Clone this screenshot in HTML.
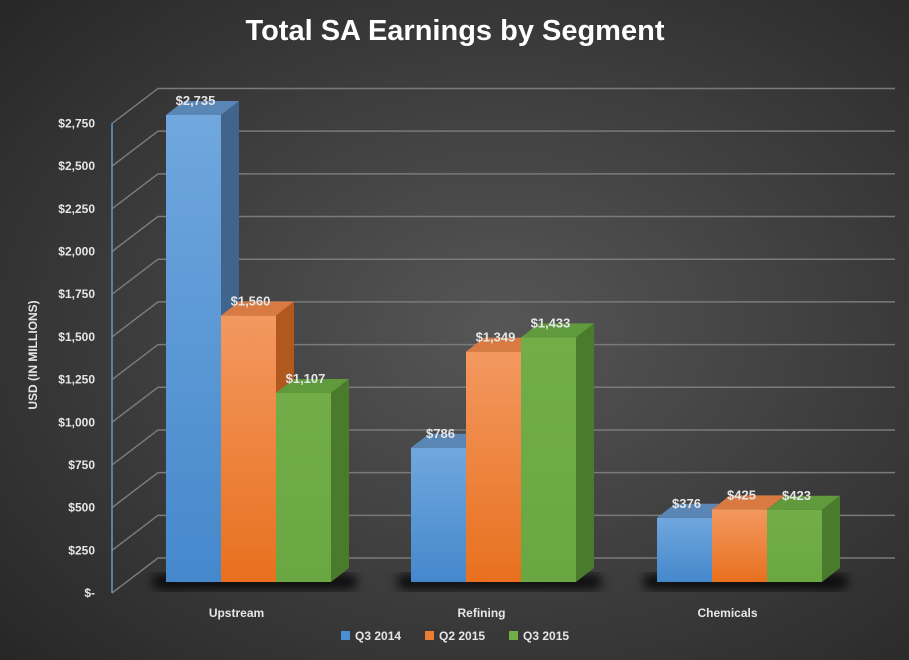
<!DOCTYPE html>
<html><head><meta charset="utf-8"><style>
html,body{margin:0;padding:0;background:#2b2b2b}
svg{display:block;font-family:"Liberation Sans",sans-serif}
</style></head><body>
<svg id="c" width="909" height="660" viewBox="0 0 909 660">
<defs>
<radialGradient id="bg" cx="0.55" cy="0.5" r="0.75">
<stop offset="0" stop-color="#565656"/><stop offset="1" stop-color="#262626"/></radialGradient>
<linearGradient id="fb" x1="0" y1="0" x2="0" y2="1"><stop offset="0" stop-color="#70a7de"/><stop offset="1" stop-color="#4588cc"/></linearGradient>
<linearGradient id="fo" x1="0" y1="0" x2="0" y2="1"><stop offset="0" stop-color="#f39860"/><stop offset="1" stop-color="#e8701e"/></linearGradient>
<linearGradient id="fg" x1="0" y1="0" x2="0" y2="1"><stop offset="0" stop-color="#72ad48"/><stop offset="1" stop-color="#6aa742"/></linearGradient>
<filter id="blur"><feGaussianBlur stdDeviation="5"/></filter>
</defs>
<rect width="909" height="660" fill="url(#bg)"/>
<text x="455" y="40" text-anchor="middle" font-size="29" font-weight="bold" fill="#fff">Total SA Earnings by Segment</text>
<text transform="translate(37,355) rotate(-90)" text-anchor="middle" font-size="12" font-weight="bold" fill="#e6e6e6">USD (IN MILLIONS)</text>
<g id="grid"></g><g id="bars"></g><g id="labels"></g>
<g>
<rect x="341" y="631" width="9" height="9" fill="#4a8fd4"/>
<text x="355" y="640" font-size="12" font-weight="bold" fill="#e6e6e6">Q3 2014</text>
<rect x="425" y="631" width="9" height="9" fill="#ed7d31"/>
<text x="439" y="640" font-size="12" font-weight="bold" fill="#e6e6e6">Q2 2015</text>
<rect x="509" y="631" width="9" height="9" fill="#70ad47"/>
<text x="523" y="640" font-size="12" font-weight="bold" fill="#e6e6e6">Q3 2015</text>
</g>
</svg>
<script>
const categories = ["Upstream","Refining","Chemicals"];
const seriesNames = ["Q3 2014","Q2 2015","Q3 2015"];
const q3_2014 = [2735, 786, 376];
const q2_2015 = [1560, 1349, 425];
const q3_2015 = [1107, 1433, 423];
const ticks = [0,250,500,750,1000,1250,1500,1750,2000,2250,2500,2750];
const tickLabels = ["$-","$250","$500","$750","$1,000","$1,250","$1,500","$1,750","$2,000","$2,250","$2,500","$2,750"];

const NS="http://www.w3.org/2000/svg";
const K=0.17075;
function yWall(v){return 593 - v*K;}
function yBar(v){return 582 - v*K;}
function mk(tag,attrs,parent){const e=document.createElementNS(NS,tag);for(const k in attrs)e.setAttribute(k,attrs[k]);parent.appendChild(e);return e;}
const grid=document.getElementById('grid'),bars=document.getElementById('bars'),labels=document.getElementById('labels');
const DX=46,DY=-35;
ticks.forEach((t,i)=>{
  const y=yWall(t);
  const p=mk('polyline',{points:`112,${y} ${112+DX},${y+DY} 895,${y+DY}`,fill:'none',stroke:'#7a7a7a','stroke-width':1.5},grid);
  
  
  const tx=mk('text',{x:95,y:y+4,'text-anchor':'end','font-size':12,'font-weight':'bold',fill:'#e6e6e6'},labels);
  tx.textContent=tickLabels[i];
  
  
});
const wl=mk('line',{x1:112,y1:yWall(ticks[ticks.length-1]),x2:112,y2:yWall(0),stroke:'#5b9bd5','stroke-width':1.5},grid);



const series=[q3_2014,q2_2015,q3_2015];
const fronts=['url(#fb)','url(#fo)','url(#fg)'];
const sides=['#41648c','#b0581e','#4a7a2c'];
const tops=['#5a86b6','#d87a42','#5f9a3c'];
const BW=55,SDX=18,SDY=-14,GX=[166,411,657];
categories.forEach((c,ci)=>{
  const x0=GX[ci];
  const sh=mk('rect',{x:x0-14,y:574,width:3*BW+SDX+22,height:16,rx:8,fill:'#000',opacity:0.75,filter:'url(#blur)'},bars);
  
  
  const cl=mk('text',{x:x0+BW*1.5-12,y:617,'text-anchor':'middle','font-size':12,'font-weight':'bold',fill:'#e6e6e6'},labels);
  cl.textContent=c;
  
  
});
categories.forEach((c,ci)=>{
  series.forEach((s,si)=>{
    const v=s[ci],x=GX[ci]+si*BW,yt=yBar(v),yb=582;
    const g=mk('g',{},bars);
    
    
    mk('polygon',{points:`${x+BW},${yt} ${x+BW+SDX},${yt+SDY} ${x+BW+SDX},${yb+SDY} ${x+BW},${yb}`,fill:sides[si]},g);
    mk('polygon',{points:`${x},${yt} ${x+SDX},${yt+SDY} ${x+BW+SDX},${yt+SDY} ${x+BW},${yt}`,fill:tops[si]},g);
    mk('rect',{x:x,y:yt,width:BW,height:yb-yt,fill:fronts[si]},g);
    const t=mk('text',{x:x+BW/2+2,y:yt-10,'text-anchor':'middle','font-size':13,'font-weight':'bold',fill:'#e6e6e6'},labels);
    t.textContent='$'+v.toLocaleString('en-US');
    
    
  });
});
</script>
</body></html>
